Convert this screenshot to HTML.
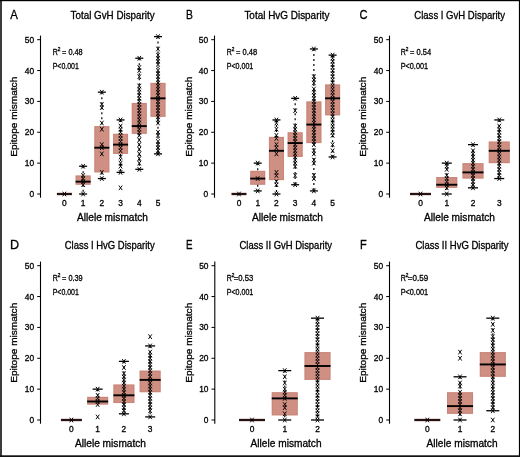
<!DOCTYPE html>
<html><head><meta charset="utf-8"><style>
html,body{margin:0;padding:0;background:#fff;}
body{width:520px;height:457px;overflow:hidden;position:relative;}
svg{position:absolute;left:0;top:0;will-change:transform;}
text{font-family:"Liberation Sans",sans-serif;stroke:#000;stroke-width:0.3px;}
</style></head><body>
<svg width="520" height="457" viewBox="0 0 520 457">
<rect x="0" y="0" width="520" height="457" fill="#fff"/>
<text x="10.20" y="19.00" font-size="12.6" text-anchor="start" textLength="7.60" lengthAdjust="spacingAndGlyphs" fill="#000" >A</text>
<text x="70.60" y="19.40" font-size="10.1" text-anchor="start" textLength="84.00" lengthAdjust="spacingAndGlyphs" fill="#000" >Total GvH Disparity</text>
<line x1="40.5" y1="35.6" x2="40.5" y2="197.7" stroke="#000" stroke-width="1.1"/>
<line x1="37.2" y1="194.00" x2="40.5" y2="194.00" stroke="#000" stroke-width="1"/>
<text x="34.20" y="197.00" font-size="8.4" text-anchor="end" fill="#000" >0</text>
<line x1="37.2" y1="163.14" x2="40.5" y2="163.14" stroke="#000" stroke-width="1"/>
<text x="34.20" y="166.14" font-size="8.4" text-anchor="end" fill="#000" >10</text>
<line x1="37.2" y1="132.28" x2="40.5" y2="132.28" stroke="#000" stroke-width="1"/>
<text x="34.20" y="135.28" font-size="8.4" text-anchor="end" fill="#000" >20</text>
<line x1="37.2" y1="101.42" x2="40.5" y2="101.42" stroke="#000" stroke-width="1"/>
<text x="34.20" y="104.42" font-size="8.4" text-anchor="end" fill="#000" >30</text>
<line x1="37.2" y1="70.56" x2="40.5" y2="70.56" stroke="#000" stroke-width="1"/>
<text x="34.20" y="73.56" font-size="8.4" text-anchor="end" fill="#000" >40</text>
<line x1="37.2" y1="39.70" x2="40.5" y2="39.70" stroke="#000" stroke-width="1"/>
<text x="34.20" y="42.70" font-size="8.4" text-anchor="end" fill="#000" >50</text>
<text x="52.65" y="54.80" font-size="8.6" text-anchor="start" textLength="5.10" lengthAdjust="spacingAndGlyphs" fill="#000" >R</text>
<text x="57.85" y="51.00" font-size="4.8" text-anchor="start" fill="#000" >2</text>
<text x="62.05" y="54.80" font-size="8.6" text-anchor="start" textLength="20.65" lengthAdjust="spacingAndGlyphs" fill="#000" >= 0.48</text>
<text x="52.65" y="69.20" font-size="8.6" text-anchor="start" textLength="26.25" lengthAdjust="spacingAndGlyphs" fill="#000" >P&lt;0.001</text>
<text transform="translate(17.30,116.75) rotate(-90)" x="0" y="0" font-size="9.4" text-anchor="middle" textLength="80" lengthAdjust="spacingAndGlyphs" fill="#000" font-family="Liberation Sans, sans-serif">Epitope mismatch</text>
<text x="64.40" y="206.00" font-size="8.4" text-anchor="middle" fill="#000" >0</text>
<text x="83.12" y="206.00" font-size="8.4" text-anchor="middle" fill="#000" >1</text>
<text x="101.84" y="206.00" font-size="8.4" text-anchor="middle" fill="#000" >2</text>
<text x="120.56" y="206.00" font-size="8.4" text-anchor="middle" fill="#000" >3</text>
<text x="139.28" y="206.00" font-size="8.4" text-anchor="middle" fill="#000" >4</text>
<text x="158.00" y="206.00" font-size="8.4" text-anchor="middle" fill="#000" >5</text>
<text x="77.00" y="220.50" font-size="10.2" text-anchor="start" textLength="71.00" lengthAdjust="spacingAndGlyphs" fill="#000" >Allele mismatch</text>
<line x1="56.90" y1="194.00" x2="71.90" y2="194.00" stroke="#2a1010" stroke-width="2.3"/>
<path d="M62.70 191.70L66.10 196.30M66.10 191.70L62.70 196.30" stroke="#000" stroke-width="0.95" fill="none"/>
<rect x="75.62" y="175.48" width="15" height="9.26" fill="#cf8f83"/>
<rect x="76.12" y="175.98" width="14" height="8.26" fill="none" stroke="#c27869" stroke-opacity="0.45" stroke-width="1"/>
<line x1="83.12" y1="166.23" x2="83.12" y2="175.48" stroke="#000" stroke-width="1.2" stroke-dasharray="2 3"/>
<line x1="83.12" y1="184.74" x2="83.12" y2="194.00" stroke="#000" stroke-width="1.2" stroke-dasharray="2 3"/>
<line x1="79.12" y1="166.23" x2="87.12" y2="166.23" stroke="#000" stroke-width="1.3"/>
<line x1="79.12" y1="194.00" x2="87.12" y2="194.00" stroke="#000" stroke-width="1.3"/>
<line x1="75.62" y1="181.66" x2="90.62" y2="181.66" stroke="#000" stroke-width="1.9"/>
<path d="M81.42 191.70L84.82 196.30M84.82 191.70L81.42 196.30M81.42 182.44L84.82 187.04M84.82 182.44L81.42 187.04M81.42 179.36L84.82 183.96M84.82 179.36L81.42 183.96M81.42 176.27L84.82 180.87M84.82 176.27L81.42 180.87M81.42 173.18L84.82 177.78M84.82 173.18L81.42 177.78M81.42 163.93L84.82 168.53M84.82 163.93L81.42 168.53" stroke="#000" stroke-width="0.95" fill="none"/>
<rect x="94.34" y="126.11" width="15" height="46.29" fill="#cf8f83"/>
<rect x="94.84" y="126.61" width="14" height="45.29" fill="none" stroke="#c27869" stroke-opacity="0.45" stroke-width="1"/>
<line x1="101.84" y1="92.16" x2="101.84" y2="126.11" stroke="#000" stroke-width="1.2" stroke-dasharray="2 3"/>
<line x1="101.84" y1="172.40" x2="101.84" y2="178.57" stroke="#000" stroke-width="1.2" stroke-dasharray="2 3"/>
<line x1="97.84" y1="92.16" x2="105.84" y2="92.16" stroke="#000" stroke-width="1.3"/>
<line x1="97.84" y1="178.57" x2="105.84" y2="178.57" stroke="#000" stroke-width="1.3"/>
<line x1="94.34" y1="147.71" x2="109.34" y2="147.71" stroke="#000" stroke-width="1.9"/>
<path d="M100.14 176.27L103.54 180.87M103.54 176.27L100.14 180.87M100.14 170.10L103.54 174.70M103.54 170.10L100.14 174.70M100.14 151.58L103.54 156.18M103.54 151.58L100.14 156.18M100.14 145.41L103.54 150.01M103.54 145.41L100.14 150.01M100.14 142.32L103.54 146.92M103.54 142.32L100.14 146.92M100.14 126.89L103.54 131.49M103.54 126.89L100.14 131.49M100.14 120.72L103.54 125.32M103.54 120.72L100.14 125.32M100.14 105.29L103.54 109.89M103.54 105.29L100.14 109.89M100.14 102.21L103.54 106.81M103.54 102.21L100.14 106.81M100.14 89.86L103.54 94.46M103.54 89.86L100.14 94.46" stroke="#000" stroke-width="0.95" fill="none"/>
<rect x="113.06" y="133.82" width="15" height="20.06" fill="#cf8f83"/>
<rect x="113.56" y="134.32" width="14" height="19.06" fill="none" stroke="#c27869" stroke-opacity="0.45" stroke-width="1"/>
<line x1="120.56" y1="119.94" x2="120.56" y2="133.82" stroke="#000" stroke-width="1.2" stroke-dasharray="2 3"/>
<line x1="120.56" y1="153.88" x2="120.56" y2="172.40" stroke="#000" stroke-width="1.2" stroke-dasharray="2 3"/>
<line x1="116.56" y1="119.94" x2="124.56" y2="119.94" stroke="#000" stroke-width="1.3"/>
<line x1="116.56" y1="172.40" x2="124.56" y2="172.40" stroke="#000" stroke-width="1.3"/>
<line x1="113.06" y1="144.62" x2="128.06" y2="144.62" stroke="#000" stroke-width="1.9"/>
<path d="M118.86 185.53L122.26 190.13M122.26 185.53L118.86 190.13M118.86 170.10L122.26 174.70M122.26 170.10L118.86 174.70M118.86 163.93L122.26 168.53M122.26 163.93L118.86 168.53M118.86 160.84L122.26 165.44M122.26 160.84L118.86 165.44M118.86 154.67L122.26 159.27M122.26 154.67L118.86 159.27M118.86 148.50L122.26 153.10M122.26 148.50L118.86 153.10M118.86 145.41L122.26 150.01M122.26 145.41L118.86 150.01M118.86 142.32L122.26 146.92M122.26 142.32L118.86 146.92M118.86 139.24L122.26 143.84M122.26 139.24L118.86 143.84M118.86 136.15L122.26 140.75M122.26 136.15L118.86 140.75M118.86 133.07L122.26 137.67M122.26 133.07L118.86 137.67M118.86 129.98L122.26 134.58M122.26 129.98L118.86 134.58M118.86 126.89L122.26 131.49M122.26 126.89L118.86 131.49M118.86 123.81L122.26 128.41M122.26 123.81L118.86 128.41M118.86 117.64L122.26 122.24M122.26 117.64L118.86 122.24" stroke="#000" stroke-width="0.95" fill="none"/>
<rect x="131.78" y="102.96" width="15" height="30.86" fill="#cf8f83"/>
<rect x="132.28" y="103.46" width="14" height="29.86" fill="none" stroke="#c27869" stroke-opacity="0.45" stroke-width="1"/>
<line x1="139.28" y1="58.22" x2="139.28" y2="102.96" stroke="#000" stroke-width="1.2" stroke-dasharray="2 3"/>
<line x1="139.28" y1="133.82" x2="139.28" y2="169.31" stroke="#000" stroke-width="1.2" stroke-dasharray="2 3"/>
<line x1="135.28" y1="58.22" x2="143.28" y2="58.22" stroke="#000" stroke-width="1.3"/>
<line x1="135.28" y1="169.31" x2="143.28" y2="169.31" stroke="#000" stroke-width="1.3"/>
<line x1="131.78" y1="126.11" x2="146.78" y2="126.11" stroke="#000" stroke-width="1.9"/>
<path d="M137.58 167.01L140.98 171.61M140.98 167.01L137.58 171.61M137.58 160.84L140.98 165.44M140.98 160.84L137.58 165.44M137.58 156.21L140.98 160.81M140.98 156.21L137.58 160.81M137.58 151.58L140.98 156.18M140.98 151.58L137.58 156.18M137.58 146.95L140.98 151.55M140.98 146.95L137.58 151.55M137.58 142.32L140.98 146.92M140.98 142.32L137.58 146.92M137.58 137.69L140.98 142.30M140.98 137.69L137.58 142.30M137.58 133.07L140.98 137.67M140.98 133.07L137.58 137.67M137.58 129.98L140.98 134.58M140.98 129.98L137.58 134.58M137.58 126.89L140.98 131.49M140.98 126.89L137.58 131.49M137.58 123.81L140.98 128.41M140.98 123.81L137.58 128.41M137.58 120.72L140.98 125.32M140.98 120.72L137.58 125.32M137.58 117.64L140.98 122.24M140.98 117.64L137.58 122.24M137.58 114.55L140.98 119.15M140.98 114.55L137.58 119.15M137.58 111.46L140.98 116.06M140.98 111.46L137.58 116.06M137.58 108.38L140.98 112.98M140.98 108.38L137.58 112.98M137.58 105.29L140.98 109.89M140.98 105.29L137.58 109.89M137.58 102.21L140.98 106.81M140.98 102.21L137.58 106.81M137.58 99.12L140.98 103.72M140.98 99.12L137.58 103.72M137.58 96.03L140.98 100.63M140.98 96.03L137.58 100.63M137.58 92.95L140.98 97.55M140.98 92.95L137.58 97.55M137.58 89.86L140.98 94.46M140.98 89.86L137.58 94.46M137.58 86.78L140.98 91.38M140.98 86.78L137.58 91.38M137.58 83.69L140.98 88.29M140.98 83.69L137.58 88.29M137.58 74.43L140.98 79.03M140.98 74.43L137.58 79.03M137.58 68.26L140.98 72.86M140.98 68.26L137.58 72.86M137.58 65.17L140.98 69.77M140.98 65.17L137.58 69.77M137.58 55.92L140.98 60.52M140.98 55.92L137.58 60.52" stroke="#000" stroke-width="0.95" fill="none"/>
<rect x="150.50" y="82.90" width="15" height="33.95" fill="#cf8f83"/>
<rect x="151.00" y="83.40" width="14" height="32.95" fill="none" stroke="#c27869" stroke-opacity="0.45" stroke-width="1"/>
<line x1="158.00" y1="36.61" x2="158.00" y2="82.90" stroke="#000" stroke-width="1.2" stroke-dasharray="2 3"/>
<line x1="158.00" y1="116.85" x2="158.00" y2="153.88" stroke="#000" stroke-width="1.2" stroke-dasharray="2 3"/>
<line x1="154.00" y1="36.61" x2="162.00" y2="36.61" stroke="#000" stroke-width="1.3"/>
<line x1="154.00" y1="153.88" x2="162.00" y2="153.88" stroke="#000" stroke-width="1.3"/>
<line x1="150.50" y1="98.33" x2="165.50" y2="98.33" stroke="#000" stroke-width="1.9"/>
<path d="M156.30 151.58L159.70 156.18M159.70 151.58L156.30 156.18M156.30 148.50L159.70 153.10M159.70 148.50L156.30 153.10M156.30 145.41L159.70 150.01M159.70 145.41L156.30 150.01M156.30 142.32L159.70 146.92M159.70 142.32L156.30 146.92M156.30 139.24L159.70 143.84M159.70 139.24L156.30 143.84M156.30 133.07L159.70 137.67M159.70 133.07L156.30 137.67M156.30 129.98L159.70 134.58M159.70 129.98L156.30 134.58M156.30 120.72L159.70 125.32M159.70 120.72L156.30 125.32M156.30 117.64L159.70 122.24M159.70 117.64L156.30 122.24M156.30 114.55L159.70 119.15M159.70 114.55L156.30 119.15M156.30 111.46L159.70 116.06M159.70 111.46L156.30 116.06M156.30 108.38L159.70 112.98M159.70 108.38L156.30 112.98M156.30 105.29L159.70 109.89M159.70 105.29L156.30 109.89M156.30 102.21L159.70 106.81M159.70 102.21L156.30 106.81M156.30 99.12L159.70 103.72M159.70 99.12L156.30 103.72M156.30 96.03L159.70 100.63M159.70 96.03L156.30 100.63M156.30 92.95L159.70 97.55M159.70 92.95L156.30 97.55M156.30 89.86L159.70 94.46M159.70 89.86L156.30 94.46M156.30 86.78L159.70 91.38M159.70 86.78L156.30 91.38M156.30 83.69L159.70 88.29M159.70 83.69L156.30 88.29M156.30 80.60L159.70 85.20M159.70 80.60L156.30 85.20M156.30 77.52L159.70 82.12M159.70 77.52L156.30 82.12M156.30 74.43L159.70 79.03M159.70 74.43L156.30 79.03M156.30 71.35L159.70 75.95M159.70 71.35L156.30 75.95M156.30 68.26L159.70 72.86M159.70 68.26L156.30 72.86M156.30 62.09L159.70 66.69M159.70 62.09L156.30 66.69M156.30 59.00L159.70 63.60M159.70 59.00L156.30 63.60M156.30 55.92L159.70 60.52M159.70 55.92L156.30 60.52M156.30 52.83L159.70 57.43M159.70 52.83L156.30 57.43M156.30 46.66L159.70 51.26M159.70 46.66L156.30 51.26M156.30 34.31L159.70 38.91M159.70 34.31L156.30 38.91" stroke="#000" stroke-width="0.95" fill="none"/>
<text x="185.90" y="19.00" font-size="12.6" text-anchor="start" textLength="6.90" lengthAdjust="spacingAndGlyphs" fill="#000" >B</text>
<text x="244.40" y="19.40" font-size="10.1" text-anchor="start" textLength="85.00" lengthAdjust="spacingAndGlyphs" fill="#000" >Total HvG Disparity</text>
<line x1="214.5" y1="35.6" x2="214.5" y2="197.7" stroke="#000" stroke-width="1.1"/>
<line x1="211.2" y1="194.00" x2="214.5" y2="194.00" stroke="#000" stroke-width="1"/>
<text x="208.20" y="197.00" font-size="8.4" text-anchor="end" fill="#000" >0</text>
<line x1="211.2" y1="163.14" x2="214.5" y2="163.14" stroke="#000" stroke-width="1"/>
<text x="208.20" y="166.14" font-size="8.4" text-anchor="end" fill="#000" >10</text>
<line x1="211.2" y1="132.28" x2="214.5" y2="132.28" stroke="#000" stroke-width="1"/>
<text x="208.20" y="135.28" font-size="8.4" text-anchor="end" fill="#000" >20</text>
<line x1="211.2" y1="101.42" x2="214.5" y2="101.42" stroke="#000" stroke-width="1"/>
<text x="208.20" y="104.42" font-size="8.4" text-anchor="end" fill="#000" >30</text>
<line x1="211.2" y1="70.56" x2="214.5" y2="70.56" stroke="#000" stroke-width="1"/>
<text x="208.20" y="73.56" font-size="8.4" text-anchor="end" fill="#000" >40</text>
<line x1="211.2" y1="39.70" x2="214.5" y2="39.70" stroke="#000" stroke-width="1"/>
<text x="208.20" y="42.70" font-size="8.4" text-anchor="end" fill="#000" >50</text>
<text x="226.65" y="54.80" font-size="8.6" text-anchor="start" textLength="5.10" lengthAdjust="spacingAndGlyphs" fill="#000" >R</text>
<text x="231.85" y="51.00" font-size="4.8" text-anchor="start" fill="#000" >2</text>
<text x="236.05" y="54.80" font-size="8.6" text-anchor="start" textLength="21.05" lengthAdjust="spacingAndGlyphs" fill="#000" >= 0.48</text>
<text x="226.65" y="69.20" font-size="8.6" text-anchor="start" textLength="26.65" lengthAdjust="spacingAndGlyphs" fill="#000" >P&lt;0.001</text>
<text transform="translate(191.90,116.75) rotate(-90)" x="0" y="0" font-size="9.4" text-anchor="middle" textLength="80" lengthAdjust="spacingAndGlyphs" fill="#000" font-family="Liberation Sans, sans-serif">Epitope mismatch</text>
<text x="239.00" y="206.00" font-size="8.4" text-anchor="middle" fill="#000" >0</text>
<text x="257.72" y="206.00" font-size="8.4" text-anchor="middle" fill="#000" >1</text>
<text x="276.44" y="206.00" font-size="8.4" text-anchor="middle" fill="#000" >2</text>
<text x="295.16" y="206.00" font-size="8.4" text-anchor="middle" fill="#000" >3</text>
<text x="313.88" y="206.00" font-size="8.4" text-anchor="middle" fill="#000" >4</text>
<text x="332.60" y="206.00" font-size="8.4" text-anchor="middle" fill="#000" >5</text>
<text x="252.00" y="220.50" font-size="10.2" text-anchor="start" textLength="71.00" lengthAdjust="spacingAndGlyphs" fill="#000" >Allele mismatch</text>
<line x1="231.50" y1="194.00" x2="246.50" y2="194.00" stroke="#2a1010" stroke-width="2.3"/>
<path d="M237.30 191.70L240.70 196.30M240.70 191.70L237.30 196.30" stroke="#000" stroke-width="0.95" fill="none"/>
<rect x="250.22" y="170.85" width="15" height="13.89" fill="#cf8f83"/>
<rect x="250.72" y="171.35" width="14" height="12.89" fill="none" stroke="#c27869" stroke-opacity="0.45" stroke-width="1"/>
<line x1="257.72" y1="163.14" x2="257.72" y2="170.85" stroke="#000" stroke-width="1.2" stroke-dasharray="2 3"/>
<line x1="257.72" y1="184.74" x2="257.72" y2="190.91" stroke="#000" stroke-width="1.2" stroke-dasharray="2 3"/>
<line x1="253.72" y1="163.14" x2="261.72" y2="163.14" stroke="#000" stroke-width="1.3"/>
<line x1="253.72" y1="190.91" x2="261.72" y2="190.91" stroke="#000" stroke-width="1.3"/>
<line x1="250.22" y1="178.57" x2="265.22" y2="178.57" stroke="#000" stroke-width="1.9"/>
<path d="M256.02 188.61L259.42 193.21M259.42 188.61L256.02 193.21M256.02 176.27L259.42 180.87M259.42 176.27L256.02 180.87M256.02 160.84L259.42 165.44M259.42 160.84L256.02 165.44" stroke="#000" stroke-width="0.95" fill="none"/>
<rect x="268.94" y="136.91" width="15" height="43.20" fill="#cf8f83"/>
<rect x="269.44" y="137.41" width="14" height="42.20" fill="none" stroke="#c27869" stroke-opacity="0.45" stroke-width="1"/>
<line x1="276.44" y1="119.94" x2="276.44" y2="136.91" stroke="#000" stroke-width="1.2" stroke-dasharray="2 3"/>
<line x1="276.44" y1="180.11" x2="276.44" y2="194.00" stroke="#000" stroke-width="1.2" stroke-dasharray="2 3"/>
<line x1="272.44" y1="119.94" x2="280.44" y2="119.94" stroke="#000" stroke-width="1.3"/>
<line x1="272.44" y1="194.00" x2="280.44" y2="194.00" stroke="#000" stroke-width="1.3"/>
<line x1="268.94" y1="150.80" x2="283.94" y2="150.80" stroke="#000" stroke-width="1.9"/>
<path d="M274.74 191.70L278.14 196.30M278.14 191.70L274.74 196.30M274.74 182.44L278.14 187.04M278.14 182.44L274.74 187.04M274.74 179.36L278.14 183.96M278.14 179.36L274.74 183.96M274.74 173.18L278.14 177.78M278.14 173.18L274.74 177.78M274.74 170.10L278.14 174.70M278.14 170.10L274.74 174.70M274.74 151.58L278.14 156.18M278.14 151.58L274.74 156.18M274.74 145.41L278.14 150.01M278.14 145.41L274.74 150.01M274.74 142.32L278.14 146.92M278.14 142.32L274.74 146.92M274.74 136.15L278.14 140.75M278.14 136.15L274.74 140.75M274.74 133.07L278.14 137.67M278.14 133.07L274.74 137.67M274.74 126.89L278.14 131.49M278.14 126.89L274.74 131.49M274.74 120.72L278.14 125.32M278.14 120.72L274.74 125.32M274.74 117.64L278.14 122.24M278.14 117.64L274.74 122.24" stroke="#000" stroke-width="0.95" fill="none"/>
<rect x="287.66" y="132.28" width="15" height="24.69" fill="#cf8f83"/>
<rect x="288.16" y="132.78" width="14" height="23.69" fill="none" stroke="#c27869" stroke-opacity="0.45" stroke-width="1"/>
<line x1="295.16" y1="98.33" x2="295.16" y2="132.28" stroke="#000" stroke-width="1.2" stroke-dasharray="2 3"/>
<line x1="295.16" y1="156.97" x2="295.16" y2="184.74" stroke="#000" stroke-width="1.2" stroke-dasharray="2 3"/>
<line x1="291.16" y1="98.33" x2="299.16" y2="98.33" stroke="#000" stroke-width="1.3"/>
<line x1="291.16" y1="184.74" x2="299.16" y2="184.74" stroke="#000" stroke-width="1.3"/>
<line x1="287.66" y1="143.08" x2="302.66" y2="143.08" stroke="#000" stroke-width="1.9"/>
<path d="M293.46 182.44L296.86 187.04M296.86 182.44L293.46 187.04M293.46 173.18L296.86 177.78M296.86 173.18L293.46 177.78M293.46 163.93L296.86 168.53M296.86 163.93L293.46 168.53M293.46 160.84L296.86 165.44M296.86 160.84L293.46 165.44M293.46 157.75L296.86 162.35M296.86 157.75L293.46 162.35M293.46 154.67L296.86 159.27M296.86 154.67L293.46 159.27M293.46 151.58L296.86 156.18M296.86 151.58L293.46 156.18M293.46 148.50L296.86 153.10M296.86 148.50L293.46 153.10M293.46 145.41L296.86 150.01M296.86 145.41L293.46 150.01M293.46 142.32L296.86 146.92M296.86 142.32L293.46 146.92M293.46 139.24L296.86 143.84M296.86 139.24L293.46 143.84M293.46 136.15L296.86 140.75M296.86 136.15L293.46 140.75M293.46 133.07L296.86 137.67M296.86 133.07L293.46 137.67M293.46 129.98L296.86 134.58M296.86 129.98L293.46 134.58M293.46 126.89L296.86 131.49M296.86 126.89L293.46 131.49M293.46 123.81L296.86 128.41M296.86 123.81L293.46 128.41M293.46 108.38L296.86 112.98M296.86 108.38L293.46 112.98M293.46 96.03L296.86 100.63M296.86 96.03L293.46 100.63" stroke="#000" stroke-width="0.95" fill="none"/>
<rect x="306.38" y="101.42" width="15" height="41.66" fill="#cf8f83"/>
<rect x="306.88" y="101.92" width="14" height="40.66" fill="none" stroke="#c27869" stroke-opacity="0.45" stroke-width="1"/>
<line x1="313.88" y1="48.96" x2="313.88" y2="101.42" stroke="#000" stroke-width="1.2" stroke-dasharray="2 3"/>
<line x1="313.88" y1="143.08" x2="313.88" y2="190.91" stroke="#000" stroke-width="1.2" stroke-dasharray="2 3"/>
<line x1="309.88" y1="48.96" x2="317.88" y2="48.96" stroke="#000" stroke-width="1.3"/>
<line x1="309.88" y1="190.91" x2="317.88" y2="190.91" stroke="#000" stroke-width="1.3"/>
<line x1="306.38" y1="124.56" x2="321.38" y2="124.56" stroke="#000" stroke-width="1.9"/>
<path d="M312.18 188.61L315.58 193.21M315.58 188.61L312.18 193.21M312.18 176.27L315.58 180.87M315.58 176.27L312.18 180.87M312.18 173.18L315.58 177.78M315.58 173.18L312.18 177.78M312.18 160.84L315.58 165.44M315.58 160.84L312.18 165.44M312.18 157.75L315.58 162.35M315.58 157.75L312.18 162.35M312.18 151.58L315.58 156.18M315.58 151.58L312.18 156.18M312.18 148.50L315.58 153.10M315.58 148.50L312.18 153.10M312.18 142.32L315.58 146.92M315.58 142.32L312.18 146.92M312.18 139.24L315.58 143.84M315.58 139.24L312.18 143.84M312.18 136.15L315.58 140.75M315.58 136.15L312.18 140.75M312.18 133.07L315.58 137.67M315.58 133.07L312.18 137.67M312.18 129.98L315.58 134.58M315.58 129.98L312.18 134.58M312.18 126.89L315.58 131.49M315.58 126.89L312.18 131.49M312.18 123.81L315.58 128.41M315.58 123.81L312.18 128.41M312.18 120.72L315.58 125.32M315.58 120.72L312.18 125.32M312.18 117.64L315.58 122.24M315.58 117.64L312.18 122.24M312.18 114.55L315.58 119.15M315.58 114.55L312.18 119.15M312.18 111.46L315.58 116.06M315.58 111.46L312.18 116.06M312.18 108.38L315.58 112.98M315.58 108.38L312.18 112.98M312.18 105.29L315.58 109.89M315.58 105.29L312.18 109.89M312.18 102.21L315.58 106.81M315.58 102.21L312.18 106.81M312.18 99.12L315.58 103.72M315.58 99.12L312.18 103.72M312.18 96.03L315.58 100.63M315.58 96.03L312.18 100.63M312.18 92.95L315.58 97.55M315.58 92.95L312.18 97.55M312.18 89.86L315.58 94.46M315.58 89.86L312.18 94.46M312.18 86.78L315.58 91.38M315.58 86.78L312.18 91.38M312.18 80.60L315.58 85.20M315.58 80.60L312.18 85.20M312.18 77.52L315.58 82.12M315.58 77.52L312.18 82.12M312.18 74.43L315.58 79.03M315.58 74.43L312.18 79.03M312.18 46.66L315.58 51.26M315.58 46.66L312.18 51.26" stroke="#000" stroke-width="0.95" fill="none"/>
<rect x="325.10" y="84.45" width="15" height="30.86" fill="#cf8f83"/>
<rect x="325.60" y="84.95" width="14" height="29.86" fill="none" stroke="#c27869" stroke-opacity="0.45" stroke-width="1"/>
<line x1="332.60" y1="55.13" x2="332.60" y2="84.45" stroke="#000" stroke-width="1.2" stroke-dasharray="2 3"/>
<line x1="332.60" y1="115.31" x2="332.60" y2="156.97" stroke="#000" stroke-width="1.2" stroke-dasharray="2 3"/>
<line x1="328.60" y1="55.13" x2="336.60" y2="55.13" stroke="#000" stroke-width="1.3"/>
<line x1="328.60" y1="156.97" x2="336.60" y2="156.97" stroke="#000" stroke-width="1.3"/>
<line x1="325.10" y1="98.33" x2="340.10" y2="98.33" stroke="#000" stroke-width="1.9"/>
<path d="M330.90 154.67L334.30 159.27M334.30 154.67L330.90 159.27M330.90 148.50L334.30 153.10M334.30 148.50L330.90 153.10M330.90 142.32L334.30 146.92M334.30 142.32L330.90 146.92M330.90 133.07L334.30 137.67M334.30 133.07L330.90 137.67M330.90 129.98L334.30 134.58M334.30 129.98L330.90 134.58M330.90 126.89L334.30 131.49M334.30 126.89L330.90 131.49M330.90 123.81L334.30 128.41M334.30 123.81L330.90 128.41M330.90 120.72L334.30 125.32M334.30 120.72L330.90 125.32M330.90 117.64L334.30 122.24M334.30 117.64L330.90 122.24M330.90 114.55L334.30 119.15M334.30 114.55L330.90 119.15M330.90 111.46L334.30 116.06M334.30 111.46L330.90 116.06M330.90 108.38L334.30 112.98M334.30 108.38L330.90 112.98M330.90 105.29L334.30 109.89M334.30 105.29L330.90 109.89M330.90 102.21L334.30 106.81M334.30 102.21L330.90 106.81M330.90 99.12L334.30 103.72M334.30 99.12L330.90 103.72M330.90 96.03L334.30 100.63M334.30 96.03L330.90 100.63M330.90 92.95L334.30 97.55M334.30 92.95L330.90 97.55M330.90 89.86L334.30 94.46M334.30 89.86L330.90 94.46M330.90 86.78L334.30 91.38M334.30 86.78L330.90 91.38M330.90 83.69L334.30 88.29M334.30 83.69L330.90 88.29M330.90 80.60L334.30 85.20M334.30 80.60L330.90 85.20M330.90 77.52L334.30 82.12M334.30 77.52L330.90 82.12M330.90 74.43L334.30 79.03M334.30 74.43L330.90 79.03M330.90 71.35L334.30 75.95M334.30 71.35L330.90 75.95M330.90 68.26L334.30 72.86M334.30 68.26L330.90 72.86M330.90 65.17L334.30 69.77M334.30 65.17L330.90 69.77M330.90 62.09L334.30 66.69M334.30 62.09L330.90 66.69M330.90 59.00L334.30 63.60M334.30 59.00L330.90 63.60M330.90 55.92L334.30 60.52M334.30 55.92L330.90 60.52M330.90 52.83L334.30 57.43M334.30 52.83L330.90 57.43" stroke="#000" stroke-width="0.95" fill="none"/>
<text x="359.40" y="19.00" font-size="12.6" text-anchor="start" textLength="8.05" lengthAdjust="spacingAndGlyphs" fill="#000" >C</text>
<text x="414.30" y="19.40" font-size="10.1" text-anchor="start" textLength="90.70" lengthAdjust="spacingAndGlyphs" fill="#000" >Class I GvH Disparity</text>
<line x1="389.5" y1="35.6" x2="389.5" y2="197.7" stroke="#000" stroke-width="1.1"/>
<line x1="386.2" y1="194.00" x2="389.5" y2="194.00" stroke="#000" stroke-width="1"/>
<text x="383.20" y="197.00" font-size="8.4" text-anchor="end" fill="#000" >0</text>
<line x1="386.2" y1="163.14" x2="389.5" y2="163.14" stroke="#000" stroke-width="1"/>
<text x="383.20" y="166.14" font-size="8.4" text-anchor="end" fill="#000" >10</text>
<line x1="386.2" y1="132.28" x2="389.5" y2="132.28" stroke="#000" stroke-width="1"/>
<text x="383.20" y="135.28" font-size="8.4" text-anchor="end" fill="#000" >20</text>
<line x1="386.2" y1="101.42" x2="389.5" y2="101.42" stroke="#000" stroke-width="1"/>
<text x="383.20" y="104.42" font-size="8.4" text-anchor="end" fill="#000" >30</text>
<line x1="386.2" y1="70.56" x2="389.5" y2="70.56" stroke="#000" stroke-width="1"/>
<text x="383.20" y="73.56" font-size="8.4" text-anchor="end" fill="#000" >40</text>
<line x1="386.2" y1="39.70" x2="389.5" y2="39.70" stroke="#000" stroke-width="1"/>
<text x="383.20" y="42.70" font-size="8.4" text-anchor="end" fill="#000" >50</text>
<text x="400.65" y="54.80" font-size="8.6" text-anchor="start" textLength="5.10" lengthAdjust="spacingAndGlyphs" fill="#000" >R</text>
<text x="405.85" y="51.00" font-size="4.8" text-anchor="start" fill="#000" >2</text>
<text x="410.05" y="54.80" font-size="8.6" text-anchor="start" textLength="21.05" lengthAdjust="spacingAndGlyphs" fill="#000" >= 0.54</text>
<text x="400.65" y="69.20" font-size="8.6" text-anchor="start" textLength="27.45" lengthAdjust="spacingAndGlyphs" fill="#000" >P&lt;0.001</text>
<text transform="translate(366.30,116.75) rotate(-90)" x="0" y="0" font-size="9.4" text-anchor="middle" textLength="80" lengthAdjust="spacingAndGlyphs" fill="#000" font-family="Liberation Sans, sans-serif">Epitope mismatch</text>
<text x="420.50" y="206.00" font-size="8.4" text-anchor="middle" fill="#000" >0</text>
<text x="446.75" y="206.00" font-size="8.4" text-anchor="middle" fill="#000" >1</text>
<text x="473.00" y="206.00" font-size="8.4" text-anchor="middle" fill="#000" >2</text>
<text x="499.25" y="206.00" font-size="8.4" text-anchor="middle" fill="#000" >3</text>
<text x="424.00" y="220.50" font-size="10.2" text-anchor="start" textLength="71.00" lengthAdjust="spacingAndGlyphs" fill="#000" >Allele mismatch</text>
<line x1="410.00" y1="194.00" x2="431.00" y2="194.00" stroke="#2a1010" stroke-width="2.3"/>
<path d="M418.80 191.70L422.20 196.30M422.20 191.70L418.80 196.30" stroke="#000" stroke-width="0.95" fill="none"/>
<rect x="436.25" y="177.03" width="21" height="10.80" fill="#cf8f83"/>
<rect x="436.75" y="177.53" width="20" height="9.80" fill="none" stroke="#c27869" stroke-opacity="0.45" stroke-width="1"/>
<line x1="446.75" y1="163.14" x2="446.75" y2="177.03" stroke="#000" stroke-width="1.2" stroke-dasharray="2 3"/>
<line x1="446.75" y1="187.83" x2="446.75" y2="194.00" stroke="#000" stroke-width="1.2" stroke-dasharray="2 3"/>
<line x1="441.75" y1="163.14" x2="451.75" y2="163.14" stroke="#000" stroke-width="1.3"/>
<line x1="441.75" y1="194.00" x2="451.75" y2="194.00" stroke="#000" stroke-width="1.3"/>
<line x1="436.25" y1="184.74" x2="457.25" y2="184.74" stroke="#000" stroke-width="1.9"/>
<path d="M445.05 191.70L448.45 196.30M448.45 191.70L445.05 196.30M445.05 185.53L448.45 190.13M448.45 185.53L445.05 190.13M445.05 182.44L448.45 187.04M448.45 182.44L445.05 187.04M445.05 179.36L448.45 183.96M448.45 179.36L445.05 183.96M445.05 176.27L448.45 180.87M448.45 176.27L445.05 180.87M445.05 173.18L448.45 177.78M448.45 173.18L445.05 177.78M445.05 167.01L448.45 171.61M448.45 167.01L445.05 171.61M445.05 163.93L448.45 168.53M448.45 163.93L445.05 168.53M445.05 160.84L448.45 165.44M448.45 160.84L445.05 165.44" stroke="#000" stroke-width="0.95" fill="none"/>
<rect x="462.50" y="163.14" width="21" height="15.43" fill="#cf8f83"/>
<rect x="463.00" y="163.64" width="20" height="14.43" fill="none" stroke="#c27869" stroke-opacity="0.45" stroke-width="1"/>
<line x1="473.00" y1="144.62" x2="473.00" y2="163.14" stroke="#000" stroke-width="1.2" stroke-dasharray="2 3"/>
<line x1="473.00" y1="178.57" x2="473.00" y2="187.83" stroke="#000" stroke-width="1.2" stroke-dasharray="2 3"/>
<line x1="468.00" y1="144.62" x2="478.00" y2="144.62" stroke="#000" stroke-width="1.3"/>
<line x1="468.00" y1="187.83" x2="478.00" y2="187.83" stroke="#000" stroke-width="1.3"/>
<line x1="462.50" y1="172.40" x2="483.50" y2="172.40" stroke="#000" stroke-width="1.9"/>
<path d="M471.30 185.53L474.70 190.13M474.70 185.53L471.30 190.13M471.30 182.44L474.70 187.04M474.70 182.44L471.30 187.04M471.30 179.36L474.70 183.96M474.70 179.36L471.30 183.96M471.30 176.27L474.70 180.87M474.70 176.27L471.30 180.87M471.30 173.18L474.70 177.78M474.70 173.18L471.30 177.78M471.30 170.10L474.70 174.70M474.70 170.10L471.30 174.70M471.30 167.01L474.70 171.61M474.70 167.01L471.30 171.61M471.30 163.93L474.70 168.53M474.70 163.93L471.30 168.53M471.30 160.84L474.70 165.44M474.70 160.84L471.30 165.44M471.30 157.75L474.70 162.35M474.70 157.75L471.30 162.35M471.30 154.67L474.70 159.27M474.70 154.67L471.30 159.27M471.30 151.58L474.70 156.18M474.70 151.58L471.30 156.18M471.30 148.50L474.70 153.10M474.70 148.50L471.30 153.10M471.30 142.32L474.70 146.92M474.70 142.32L471.30 146.92" stroke="#000" stroke-width="0.95" fill="none"/>
<rect x="488.75" y="141.54" width="21" height="21.60" fill="#cf8f83"/>
<rect x="489.25" y="142.04" width="20" height="20.60" fill="none" stroke="#c27869" stroke-opacity="0.45" stroke-width="1"/>
<line x1="499.25" y1="119.94" x2="499.25" y2="141.54" stroke="#000" stroke-width="1.2" stroke-dasharray="2 3"/>
<line x1="499.25" y1="163.14" x2="499.25" y2="178.57" stroke="#000" stroke-width="1.2" stroke-dasharray="2 3"/>
<line x1="494.25" y1="119.94" x2="504.25" y2="119.94" stroke="#000" stroke-width="1.3"/>
<line x1="494.25" y1="178.57" x2="504.25" y2="178.57" stroke="#000" stroke-width="1.3"/>
<line x1="488.75" y1="150.80" x2="509.75" y2="150.80" stroke="#000" stroke-width="1.9"/>
<path d="M497.55 176.27L500.95 180.87M500.95 176.27L497.55 180.87M497.55 173.18L500.95 177.78M500.95 173.18L497.55 177.78M497.55 170.10L500.95 174.70M500.95 170.10L497.55 174.70M497.55 167.01L500.95 171.61M500.95 167.01L497.55 171.61M497.55 163.93L500.95 168.53M500.95 163.93L497.55 168.53M497.55 160.84L500.95 165.44M500.95 160.84L497.55 165.44M497.55 157.75L500.95 162.35M500.95 157.75L497.55 162.35M497.55 154.67L500.95 159.27M500.95 154.67L497.55 159.27M497.55 151.58L500.95 156.18M500.95 151.58L497.55 156.18M497.55 148.50L500.95 153.10M500.95 148.50L497.55 153.10M497.55 145.41L500.95 150.01M500.95 145.41L497.55 150.01M497.55 142.32L500.95 146.92M500.95 142.32L497.55 146.92M497.55 139.24L500.95 143.84M500.95 139.24L497.55 143.84M497.55 136.15L500.95 140.75M500.95 136.15L497.55 140.75M497.55 133.07L500.95 137.67M500.95 133.07L497.55 137.67M497.55 129.98L500.95 134.58M500.95 129.98L497.55 134.58M497.55 126.89L500.95 131.49M500.95 126.89L497.55 131.49M497.55 123.81L500.95 128.41M500.95 123.81L497.55 128.41M497.55 117.64L500.95 122.24M500.95 117.64L497.55 122.24" stroke="#000" stroke-width="0.95" fill="none"/>
<text x="10.00" y="249.00" font-size="12.6" text-anchor="start" textLength="9.10" lengthAdjust="spacingAndGlyphs" fill="#000" >D</text>
<text x="64.70" y="249.40" font-size="10.1" text-anchor="start" textLength="90.00" lengthAdjust="spacingAndGlyphs" fill="#000" >Class I HvG Disparity</text>
<line x1="40.5" y1="261.6" x2="40.5" y2="423.7" stroke="#000" stroke-width="1.1"/>
<line x1="37.2" y1="420.00" x2="40.5" y2="420.00" stroke="#000" stroke-width="1"/>
<text x="34.20" y="423.00" font-size="8.4" text-anchor="end" fill="#000" >0</text>
<line x1="37.2" y1="389.14" x2="40.5" y2="389.14" stroke="#000" stroke-width="1"/>
<text x="34.20" y="392.14" font-size="8.4" text-anchor="end" fill="#000" >10</text>
<line x1="37.2" y1="358.28" x2="40.5" y2="358.28" stroke="#000" stroke-width="1"/>
<text x="34.20" y="361.28" font-size="8.4" text-anchor="end" fill="#000" >20</text>
<line x1="37.2" y1="327.42" x2="40.5" y2="327.42" stroke="#000" stroke-width="1"/>
<text x="34.20" y="330.42" font-size="8.4" text-anchor="end" fill="#000" >30</text>
<line x1="37.2" y1="296.56" x2="40.5" y2="296.56" stroke="#000" stroke-width="1"/>
<text x="34.20" y="299.56" font-size="8.4" text-anchor="end" fill="#000" >40</text>
<line x1="37.2" y1="265.70" x2="40.5" y2="265.70" stroke="#000" stroke-width="1"/>
<text x="34.20" y="268.70" font-size="8.4" text-anchor="end" fill="#000" >50</text>
<text x="52.65" y="280.80" font-size="8.6" text-anchor="start" textLength="5.10" lengthAdjust="spacingAndGlyphs" fill="#000" >R</text>
<text x="57.85" y="277.00" font-size="4.8" text-anchor="start" fill="#000" >2</text>
<text x="62.05" y="280.80" font-size="8.6" text-anchor="start" textLength="20.65" lengthAdjust="spacingAndGlyphs" fill="#000" >= 0.39</text>
<text x="52.65" y="295.20" font-size="8.6" text-anchor="start" textLength="26.25" lengthAdjust="spacingAndGlyphs" fill="#000" >P&lt;0.001</text>
<text transform="translate(17.30,342.75) rotate(-90)" x="0" y="0" font-size="9.4" text-anchor="middle" textLength="80" lengthAdjust="spacingAndGlyphs" fill="#000" font-family="Liberation Sans, sans-serif">Epitope mismatch</text>
<text x="71.40" y="432.00" font-size="8.4" text-anchor="middle" fill="#000" >0</text>
<text x="97.65" y="432.00" font-size="8.4" text-anchor="middle" fill="#000" >1</text>
<text x="123.90" y="432.00" font-size="8.4" text-anchor="middle" fill="#000" >2</text>
<text x="150.15" y="432.00" font-size="8.4" text-anchor="middle" fill="#000" >3</text>
<text x="75.00" y="446.50" font-size="10.2" text-anchor="start" textLength="71.00" lengthAdjust="spacingAndGlyphs" fill="#000" >Allele mismatch</text>
<line x1="60.90" y1="420.00" x2="81.90" y2="420.00" stroke="#2a1010" stroke-width="2.3"/>
<path d="M69.70 417.70L73.10 422.30M73.10 417.70L69.70 422.30" stroke="#000" stroke-width="0.95" fill="none"/>
<rect x="87.15" y="396.86" width="21" height="7.71" fill="#cf8f83"/>
<rect x="87.65" y="397.36" width="20" height="6.71" fill="none" stroke="#c27869" stroke-opacity="0.45" stroke-width="1"/>
<line x1="97.65" y1="389.14" x2="97.65" y2="396.86" stroke="#000" stroke-width="1.2" stroke-dasharray="2 3"/>
<line x1="92.65" y1="389.14" x2="102.65" y2="389.14" stroke="#000" stroke-width="1.3"/>
<line x1="87.15" y1="401.48" x2="108.15" y2="401.48" stroke="#000" stroke-width="1.9"/>
<path d="M95.95 414.61L99.35 419.21M99.35 414.61L95.95 419.21M95.95 402.27L99.35 406.87M99.35 402.27L95.95 406.87M95.95 399.18L99.35 403.78M99.35 399.18L95.95 403.78M95.95 396.10L99.35 400.70M99.35 396.10L95.95 400.70M95.95 393.01L99.35 397.61M99.35 393.01L95.95 397.61M95.95 386.84L99.35 391.44M99.35 386.84L95.95 391.44" stroke="#000" stroke-width="0.95" fill="none"/>
<rect x="113.40" y="384.51" width="21" height="18.52" fill="#cf8f83"/>
<rect x="113.90" y="385.01" width="20" height="17.52" fill="none" stroke="#c27869" stroke-opacity="0.45" stroke-width="1"/>
<line x1="123.90" y1="361.37" x2="123.90" y2="384.51" stroke="#000" stroke-width="1.2" stroke-dasharray="2 3"/>
<line x1="123.90" y1="403.03" x2="123.90" y2="413.83" stroke="#000" stroke-width="1.2" stroke-dasharray="2 3"/>
<line x1="118.90" y1="361.37" x2="128.90" y2="361.37" stroke="#000" stroke-width="1.3"/>
<line x1="118.90" y1="413.83" x2="128.90" y2="413.83" stroke="#000" stroke-width="1.3"/>
<line x1="113.40" y1="395.31" x2="134.40" y2="395.31" stroke="#000" stroke-width="1.9"/>
<path d="M122.20 411.53L125.60 416.13M125.60 411.53L122.20 416.13M122.20 408.44L125.60 413.04M125.60 408.44L122.20 413.04M122.20 405.36L125.60 409.96M125.60 405.36L122.20 409.96M122.20 402.27L125.60 406.87M125.60 402.27L122.20 406.87M122.20 399.18L125.60 403.78M125.60 399.18L122.20 403.78M122.20 396.10L125.60 400.70M125.60 396.10L122.20 400.70M122.20 393.01L125.60 397.61M125.60 393.01L122.20 397.61M122.20 389.93L125.60 394.53M125.60 389.93L122.20 394.53M122.20 386.84L125.60 391.44M125.60 386.84L122.20 391.44M122.20 383.75L125.60 388.35M125.60 383.75L122.20 388.35M122.20 380.67L125.60 385.27M125.60 380.67L122.20 385.27M122.20 377.58L125.60 382.18M125.60 377.58L122.20 382.18M122.20 374.50L125.60 379.10M125.60 374.50L122.20 379.10M122.20 371.41L125.60 376.01M125.60 371.41L122.20 376.01M122.20 365.24L125.60 369.84M125.60 365.24L122.20 369.84M122.20 359.07L125.60 363.67M125.60 359.07L122.20 363.67" stroke="#000" stroke-width="0.95" fill="none"/>
<rect x="139.65" y="370.62" width="21" height="21.60" fill="#cf8f83"/>
<rect x="140.15" y="371.12" width="20" height="20.60" fill="none" stroke="#c27869" stroke-opacity="0.45" stroke-width="1"/>
<line x1="150.15" y1="345.94" x2="150.15" y2="370.62" stroke="#000" stroke-width="1.2" stroke-dasharray="2 3"/>
<line x1="150.15" y1="392.23" x2="150.15" y2="416.91" stroke="#000" stroke-width="1.2" stroke-dasharray="2 3"/>
<line x1="145.15" y1="345.94" x2="155.15" y2="345.94" stroke="#000" stroke-width="1.3"/>
<line x1="145.15" y1="416.91" x2="155.15" y2="416.91" stroke="#000" stroke-width="1.3"/>
<line x1="139.65" y1="379.88" x2="160.65" y2="379.88" stroke="#000" stroke-width="1.9"/>
<path d="M148.45 414.61L151.85 419.21M151.85 414.61L148.45 419.21M148.45 408.44L151.85 413.04M151.85 408.44L148.45 413.04M148.45 405.36L151.85 409.96M151.85 405.36L148.45 409.96M148.45 402.27L151.85 406.87M151.85 402.27L148.45 406.87M148.45 399.18L151.85 403.78M151.85 399.18L148.45 403.78M148.45 396.10L151.85 400.70M151.85 396.10L148.45 400.70M148.45 393.01L151.85 397.61M151.85 393.01L148.45 397.61M148.45 389.93L151.85 394.53M151.85 389.93L148.45 394.53M148.45 386.84L151.85 391.44M151.85 386.84L148.45 391.44M148.45 383.75L151.85 388.35M151.85 383.75L148.45 388.35M148.45 380.67L151.85 385.27M151.85 380.67L148.45 385.27M148.45 377.58L151.85 382.18M151.85 377.58L148.45 382.18M148.45 374.50L151.85 379.10M151.85 374.50L148.45 379.10M148.45 371.41L151.85 376.01M151.85 371.41L148.45 376.01M148.45 368.32L151.85 372.92M151.85 368.32L148.45 372.92M148.45 365.24L151.85 369.84M151.85 365.24L148.45 369.84M148.45 362.15L151.85 366.75M151.85 362.15L148.45 366.75M148.45 359.07L151.85 363.67M151.85 359.07L148.45 363.67M148.45 355.98L151.85 360.58M151.85 355.98L148.45 360.58M148.45 352.89L151.85 357.49M151.85 352.89L148.45 357.49M148.45 349.81L151.85 354.41M151.85 349.81L148.45 354.41M148.45 343.64L151.85 348.24M151.85 343.64L148.45 348.24M148.45 334.38L151.85 338.98M151.85 334.38L148.45 338.98" stroke="#000" stroke-width="0.95" fill="none"/>
<text x="185.90" y="249.00" font-size="12.6" text-anchor="start" textLength="6.50" lengthAdjust="spacingAndGlyphs" fill="#000" >E</text>
<text x="239.50" y="249.40" font-size="10.1" text-anchor="start" textLength="92.50" lengthAdjust="spacingAndGlyphs" fill="#000" >Class II GvH Disparity</text>
<line x1="214.8" y1="261.6" x2="214.8" y2="423.7" stroke="#000" stroke-width="1.1"/>
<line x1="211.5" y1="420.00" x2="214.8" y2="420.00" stroke="#000" stroke-width="1"/>
<text x="208.50" y="423.00" font-size="8.4" text-anchor="end" fill="#000" >0</text>
<line x1="211.5" y1="389.14" x2="214.8" y2="389.14" stroke="#000" stroke-width="1"/>
<text x="208.50" y="392.14" font-size="8.4" text-anchor="end" fill="#000" >10</text>
<line x1="211.5" y1="358.28" x2="214.8" y2="358.28" stroke="#000" stroke-width="1"/>
<text x="208.50" y="361.28" font-size="8.4" text-anchor="end" fill="#000" >20</text>
<line x1="211.5" y1="327.42" x2="214.8" y2="327.42" stroke="#000" stroke-width="1"/>
<text x="208.50" y="330.42" font-size="8.4" text-anchor="end" fill="#000" >30</text>
<line x1="211.5" y1="296.56" x2="214.8" y2="296.56" stroke="#000" stroke-width="1"/>
<text x="208.50" y="299.56" font-size="8.4" text-anchor="end" fill="#000" >40</text>
<line x1="211.5" y1="265.70" x2="214.8" y2="265.70" stroke="#000" stroke-width="1"/>
<text x="208.50" y="268.70" font-size="8.4" text-anchor="end" fill="#000" >50</text>
<text x="226.65" y="280.80" font-size="8.6" text-anchor="start" textLength="5.10" lengthAdjust="spacingAndGlyphs" fill="#000" >R</text>
<text x="231.85" y="277.00" font-size="4.8" text-anchor="start" fill="#000" >2</text>
<text x="233.85" y="280.80" font-size="8.6" text-anchor="start" textLength="19.45" lengthAdjust="spacingAndGlyphs" fill="#000" >=0.53</text>
<text x="226.65" y="295.20" font-size="8.6" text-anchor="start" textLength="26.65" lengthAdjust="spacingAndGlyphs" fill="#000" >P&lt;0.001</text>
<text transform="translate(192.30,342.75) rotate(-90)" x="0" y="0" font-size="9.4" text-anchor="middle" textLength="80" lengthAdjust="spacingAndGlyphs" fill="#000" font-family="Liberation Sans, sans-serif">Epitope mismatch</text>
<text x="252.00" y="432.00" font-size="8.4" text-anchor="middle" fill="#000" >0</text>
<text x="284.75" y="432.00" font-size="8.4" text-anchor="middle" fill="#000" >1</text>
<text x="317.50" y="432.00" font-size="8.4" text-anchor="middle" fill="#000" >2</text>
<text x="250.60" y="446.50" font-size="10.2" text-anchor="start" textLength="71.00" lengthAdjust="spacingAndGlyphs" fill="#000" >Allele mismatch</text>
<line x1="239.00" y1="420.00" x2="265.00" y2="420.00" stroke="#2a1010" stroke-width="2.3"/>
<path d="M250.30 417.70L253.70 422.30M253.70 417.70L250.30 422.30" stroke="#000" stroke-width="0.95" fill="none"/>
<rect x="271.75" y="392.23" width="26" height="23.14" fill="#cf8f83"/>
<rect x="272.25" y="392.73" width="25" height="22.14" fill="none" stroke="#c27869" stroke-opacity="0.45" stroke-width="1"/>
<line x1="284.75" y1="370.62" x2="284.75" y2="392.23" stroke="#000" stroke-width="1.2" stroke-dasharray="2 3"/>
<line x1="284.75" y1="415.37" x2="284.75" y2="420.00" stroke="#000" stroke-width="1.2" stroke-dasharray="2 3"/>
<line x1="278.25" y1="370.62" x2="291.25" y2="370.62" stroke="#000" stroke-width="1.3"/>
<line x1="278.25" y1="420.00" x2="291.25" y2="420.00" stroke="#000" stroke-width="1.3"/>
<line x1="271.75" y1="398.40" x2="297.75" y2="398.40" stroke="#000" stroke-width="1.9"/>
<path d="M283.05 417.70L286.45 422.30M286.45 417.70L283.05 422.30M283.05 411.53L286.45 416.13M286.45 411.53L283.05 416.13M283.05 405.36L286.45 409.96M286.45 405.36L283.05 409.96M283.05 402.27L286.45 406.87M286.45 402.27L283.05 406.87M283.05 396.10L286.45 400.70M286.45 396.10L283.05 400.70M283.05 393.01L286.45 397.61M286.45 393.01L283.05 397.61M283.05 389.93L286.45 394.53M286.45 389.93L283.05 394.53M283.05 386.84L286.45 391.44M286.45 386.84L283.05 391.44M283.05 380.67L286.45 385.27M286.45 380.67L283.05 385.27M283.05 374.50L286.45 379.10M286.45 374.50L283.05 379.10M283.05 368.32L286.45 372.92M286.45 368.32L283.05 372.92" stroke="#000" stroke-width="0.95" fill="none"/>
<rect x="304.50" y="352.11" width="26" height="27.77" fill="#cf8f83"/>
<rect x="305.00" y="352.61" width="25" height="26.77" fill="none" stroke="#c27869" stroke-opacity="0.45" stroke-width="1"/>
<line x1="317.50" y1="318.16" x2="317.50" y2="352.11" stroke="#000" stroke-width="1.2" stroke-dasharray="2 3"/>
<line x1="317.50" y1="379.88" x2="317.50" y2="420.00" stroke="#000" stroke-width="1.2" stroke-dasharray="2 3"/>
<line x1="311.00" y1="318.16" x2="324.00" y2="318.16" stroke="#000" stroke-width="1.3"/>
<line x1="311.00" y1="420.00" x2="324.00" y2="420.00" stroke="#000" stroke-width="1.3"/>
<line x1="304.50" y1="366.00" x2="330.50" y2="366.00" stroke="#000" stroke-width="1.9"/>
<path d="M315.80 417.70L319.20 422.30M319.20 417.70L315.80 422.30M315.80 414.61L319.20 419.21M319.20 414.61L315.80 419.21M315.80 411.53L319.20 416.13M319.20 411.53L315.80 416.13M315.80 408.44L319.20 413.04M319.20 408.44L315.80 413.04M315.80 405.36L319.20 409.96M319.20 405.36L315.80 409.96M315.80 402.27L319.20 406.87M319.20 402.27L315.80 406.87M315.80 399.18L319.20 403.78M319.20 399.18L315.80 403.78M315.80 396.10L319.20 400.70M319.20 396.10L315.80 400.70M315.80 393.01L319.20 397.61M319.20 393.01L315.80 397.61M315.80 389.93L319.20 394.53M319.20 389.93L315.80 394.53M315.80 386.84L319.20 391.44M319.20 386.84L315.80 391.44M315.80 383.75L319.20 388.35M319.20 383.75L315.80 388.35M315.80 380.67L319.20 385.27M319.20 380.67L315.80 385.27M315.80 377.58L319.20 382.18M319.20 377.58L315.80 382.18M315.80 374.50L319.20 379.10M319.20 374.50L315.80 379.10M315.80 371.41L319.20 376.01M319.20 371.41L315.80 376.01M315.80 368.32L319.20 372.92M319.20 368.32L315.80 372.92M315.80 365.24L319.20 369.84M319.20 365.24L315.80 369.84M315.80 362.15L319.20 366.75M319.20 362.15L315.80 366.75M315.80 359.07L319.20 363.67M319.20 359.07L315.80 363.67M315.80 355.98L319.20 360.58M319.20 355.98L315.80 360.58M315.80 352.89L319.20 357.49M319.20 352.89L315.80 357.49M315.80 349.81L319.20 354.41M319.20 349.81L315.80 354.41M315.80 346.72L319.20 351.32M319.20 346.72L315.80 351.32M315.80 343.64L319.20 348.24M319.20 343.64L315.80 348.24M315.80 340.55L319.20 345.15M319.20 340.55L315.80 345.15M315.80 337.46L319.20 342.06M319.20 337.46L315.80 342.06M315.80 334.38L319.20 338.98M319.20 334.38L315.80 338.98M315.80 331.29L319.20 335.89M319.20 331.29L315.80 335.89M315.80 328.21L319.20 332.81M319.20 328.21L315.80 332.81M315.80 325.12L319.20 329.72M319.20 325.12L315.80 329.72M315.80 322.03L319.20 326.63M319.20 322.03L315.80 326.63M315.80 318.95L319.20 323.55M319.20 318.95L315.80 323.55M315.80 315.86L319.20 320.46M319.20 315.86L315.80 320.46" stroke="#000" stroke-width="0.95" fill="none"/>
<text x="360.00" y="249.00" font-size="12.6" text-anchor="start" textLength="6.70" lengthAdjust="spacingAndGlyphs" fill="#000" >F</text>
<text x="415.40" y="249.40" font-size="10.1" text-anchor="start" textLength="93.10" lengthAdjust="spacingAndGlyphs" fill="#000" >Class II HvG Disparity</text>
<line x1="389.5" y1="261.6" x2="389.5" y2="423.7" stroke="#000" stroke-width="1.1"/>
<line x1="386.2" y1="420.00" x2="389.5" y2="420.00" stroke="#000" stroke-width="1"/>
<text x="383.20" y="423.00" font-size="8.4" text-anchor="end" fill="#000" >0</text>
<line x1="386.2" y1="389.14" x2="389.5" y2="389.14" stroke="#000" stroke-width="1"/>
<text x="383.20" y="392.14" font-size="8.4" text-anchor="end" fill="#000" >10</text>
<line x1="386.2" y1="358.28" x2="389.5" y2="358.28" stroke="#000" stroke-width="1"/>
<text x="383.20" y="361.28" font-size="8.4" text-anchor="end" fill="#000" >20</text>
<line x1="386.2" y1="327.42" x2="389.5" y2="327.42" stroke="#000" stroke-width="1"/>
<text x="383.20" y="330.42" font-size="8.4" text-anchor="end" fill="#000" >30</text>
<line x1="386.2" y1="296.56" x2="389.5" y2="296.56" stroke="#000" stroke-width="1"/>
<text x="383.20" y="299.56" font-size="8.4" text-anchor="end" fill="#000" >40</text>
<line x1="386.2" y1="265.70" x2="389.5" y2="265.70" stroke="#000" stroke-width="1"/>
<text x="383.20" y="268.70" font-size="8.4" text-anchor="end" fill="#000" >50</text>
<text x="400.65" y="280.80" font-size="8.6" text-anchor="start" textLength="5.10" lengthAdjust="spacingAndGlyphs" fill="#000" >R</text>
<text x="405.85" y="277.00" font-size="4.8" text-anchor="start" fill="#000" >2</text>
<text x="407.85" y="280.80" font-size="8.6" text-anchor="start" textLength="20.25" lengthAdjust="spacingAndGlyphs" fill="#000" >=0.59</text>
<text x="400.65" y="295.20" font-size="8.6" text-anchor="start" textLength="27.45" lengthAdjust="spacingAndGlyphs" fill="#000" >P&lt;0.001</text>
<text transform="translate(366.30,342.75) rotate(-90)" x="0" y="0" font-size="9.4" text-anchor="middle" textLength="80" lengthAdjust="spacingAndGlyphs" fill="#000" font-family="Liberation Sans, sans-serif">Epitope mismatch</text>
<text x="427.30" y="432.00" font-size="8.4" text-anchor="middle" fill="#000" >0</text>
<text x="460.05" y="432.00" font-size="8.4" text-anchor="middle" fill="#000" >1</text>
<text x="492.80" y="432.00" font-size="8.4" text-anchor="middle" fill="#000" >2</text>
<text x="426.60" y="446.50" font-size="10.2" text-anchor="start" textLength="71.00" lengthAdjust="spacingAndGlyphs" fill="#000" >Allele mismatch</text>
<line x1="414.30" y1="420.00" x2="440.30" y2="420.00" stroke="#2a1010" stroke-width="2.3"/>
<path d="M425.60 417.70L429.00 422.30M429.00 417.70L425.60 422.30" stroke="#000" stroke-width="0.95" fill="none"/>
<rect x="447.05" y="392.23" width="26" height="21.60" fill="#cf8f83"/>
<rect x="447.55" y="392.73" width="25" height="20.60" fill="none" stroke="#c27869" stroke-opacity="0.45" stroke-width="1"/>
<line x1="460.05" y1="376.80" x2="460.05" y2="392.23" stroke="#000" stroke-width="1.2" stroke-dasharray="2 3"/>
<line x1="460.05" y1="413.83" x2="460.05" y2="420.00" stroke="#000" stroke-width="1.2" stroke-dasharray="2 3"/>
<line x1="453.55" y1="376.80" x2="466.55" y2="376.80" stroke="#000" stroke-width="1.3"/>
<line x1="453.55" y1="420.00" x2="466.55" y2="420.00" stroke="#000" stroke-width="1.3"/>
<line x1="447.05" y1="406.11" x2="473.05" y2="406.11" stroke="#000" stroke-width="1.9"/>
<path d="M458.35 417.70L461.75 422.30M461.75 417.70L458.35 422.30M458.35 411.53L461.75 416.13M461.75 411.53L458.35 416.13M458.35 408.44L461.75 413.04M461.75 408.44L458.35 413.04M458.35 405.36L461.75 409.96M461.75 405.36L458.35 409.96M458.35 402.27L461.75 406.87M461.75 402.27L458.35 406.87M458.35 399.18L461.75 403.78M461.75 399.18L458.35 403.78M458.35 396.10L461.75 400.70M461.75 396.10L458.35 400.70M458.35 393.01L461.75 397.61M461.75 393.01L458.35 397.61M458.35 389.93L461.75 394.53M461.75 389.93L458.35 394.53M458.35 383.75L461.75 388.35M461.75 383.75L458.35 388.35M458.35 380.67L461.75 385.27M461.75 380.67L458.35 385.27M458.35 374.50L461.75 379.10M461.75 374.50L458.35 379.10M458.35 355.98L461.75 360.58M461.75 355.98L458.35 360.58M458.35 349.81L461.75 354.41M461.75 349.81L458.35 354.41" stroke="#000" stroke-width="0.95" fill="none"/>
<rect x="479.80" y="352.11" width="26" height="24.69" fill="#cf8f83"/>
<rect x="480.30" y="352.61" width="25" height="23.69" fill="none" stroke="#c27869" stroke-opacity="0.45" stroke-width="1"/>
<line x1="492.80" y1="318.16" x2="492.80" y2="352.11" stroke="#000" stroke-width="1.2" stroke-dasharray="2 3"/>
<line x1="492.80" y1="376.80" x2="492.80" y2="410.74" stroke="#000" stroke-width="1.2" stroke-dasharray="2 3"/>
<line x1="486.30" y1="318.16" x2="499.30" y2="318.16" stroke="#000" stroke-width="1.3"/>
<line x1="486.30" y1="410.74" x2="499.30" y2="410.74" stroke="#000" stroke-width="1.3"/>
<line x1="479.80" y1="364.45" x2="505.80" y2="364.45" stroke="#000" stroke-width="1.9"/>
<path d="M491.10 417.70L494.50 422.30M494.50 417.70L491.10 422.30M491.10 408.44L494.50 413.04M494.50 408.44L491.10 413.04M491.10 405.36L494.50 409.96M494.50 405.36L491.10 409.96M491.10 402.27L494.50 406.87M494.50 402.27L491.10 406.87M491.10 399.18L494.50 403.78M494.50 399.18L491.10 403.78M491.10 396.10L494.50 400.70M494.50 396.10L491.10 400.70M491.10 393.01L494.50 397.61M494.50 393.01L491.10 397.61M491.10 389.93L494.50 394.53M494.50 389.93L491.10 394.53M491.10 386.84L494.50 391.44M494.50 386.84L491.10 391.44M491.10 383.75L494.50 388.35M494.50 383.75L491.10 388.35M491.10 380.67L494.50 385.27M494.50 380.67L491.10 385.27M491.10 377.58L494.50 382.18M494.50 377.58L491.10 382.18M491.10 374.50L494.50 379.10M494.50 374.50L491.10 379.10M491.10 371.41L494.50 376.01M494.50 371.41L491.10 376.01M491.10 368.32L494.50 372.92M494.50 368.32L491.10 372.92M491.10 365.24L494.50 369.84M494.50 365.24L491.10 369.84M491.10 362.15L494.50 366.75M494.50 362.15L491.10 366.75M491.10 359.07L494.50 363.67M494.50 359.07L491.10 363.67M491.10 355.98L494.50 360.58M494.50 355.98L491.10 360.58M491.10 352.89L494.50 357.49M494.50 352.89L491.10 357.49M491.10 349.81L494.50 354.41M494.50 349.81L491.10 354.41M491.10 346.72L494.50 351.32M494.50 346.72L491.10 351.32M491.10 343.64L494.50 348.24M494.50 343.64L491.10 348.24M491.10 340.55L494.50 345.15M494.50 340.55L491.10 345.15M491.10 337.46L494.50 342.06M494.50 337.46L491.10 342.06M491.10 334.38L494.50 338.98M494.50 334.38L491.10 338.98M491.10 328.21L494.50 332.81M494.50 328.21L491.10 332.81M491.10 322.03L494.50 326.63M494.50 322.03L491.10 326.63M491.10 315.86L494.50 320.46M494.50 315.86L491.10 320.46" stroke="#000" stroke-width="0.95" fill="none"/>
<rect x="0" y="0" width="2" height="457" fill="#3c3c3c"/>
<rect x="0" y="0" width="520" height="1.2" fill="#000"/>
<rect x="518.9" y="0" width="1.1" height="457" fill="#000"/>
<rect x="0" y="455.3" width="520" height="1.7" fill="#111"/>
</svg>
</body></html>
